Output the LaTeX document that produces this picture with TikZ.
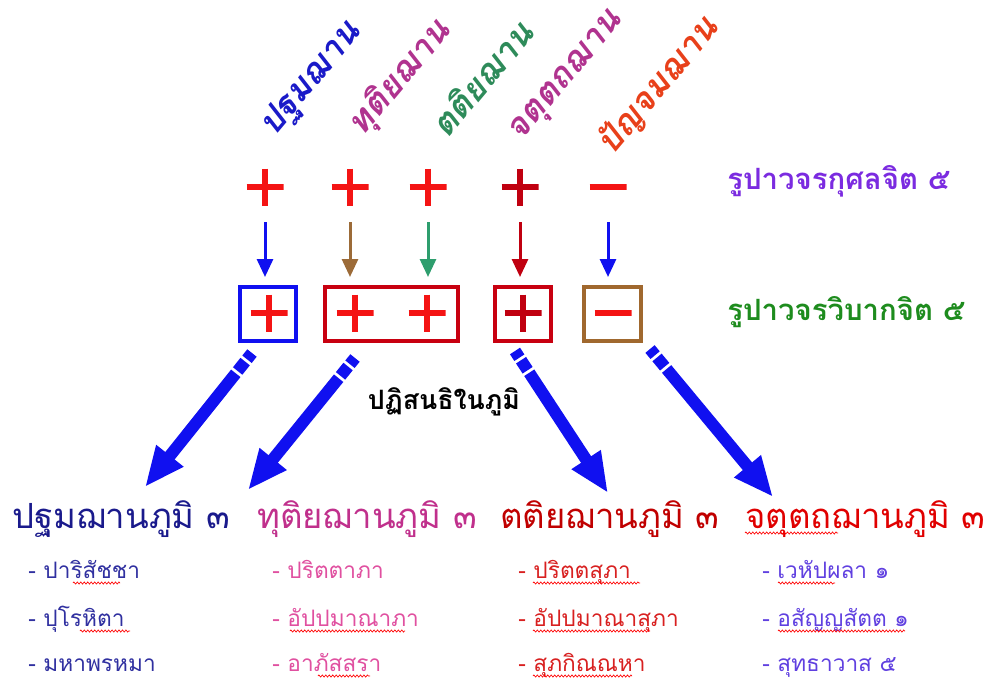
\documentclass[tikz,border=0pt]{standalone}
\usepackage{fontspec}
\newfontfamily\thaifont[Script=Thai]{Loma}
\usetikzlibrary{arrows.meta,decorations.pathmorphing}
\definecolor{headblue}{HTML}{1A1AC8}
\definecolor{headmag}{HTML}{B0338F}
\definecolor{headgreen}{HTML}{2E8B5A}
\definecolor{headorange}{HTML}{E8401A}
\definecolor{kusalaviolet}{HTML}{7B2BE0}
\definecolor{vipakagreen}{HTML}{1E8C1E}
\definecolor{plusred}{HTML}{F41414}
\definecolor{plusdark}{HTML}{C00010}
\definecolor{arrowblue}{HTML}{1010F0}
\definecolor{arrowbrown}{HTML}{9C6B38}
\definecolor{arrowgreen}{HTML}{2E9E6E}
\definecolor{boxred}{HTML}{C80010}
\definecolor{boxbrown}{HTML}{A0682E}
\definecolor{bhumione}{HTML}{1A1A8C}
\definecolor{bhumitwo}{HTML}{C0308C}
\definecolor{bhumithree}{HTML}{C00000}
\definecolor{bhumifour}{HTML}{E00000}
\definecolor{itemone}{HTML}{3030A0}
\definecolor{itemtwo}{HTML}{E050A0}
\definecolor{itemthree}{HTML}{D82020}
\definecolor{itemfour}{HTML}{6040E0}
\tikzset{
  plusmark/.style={minimum size=27.75pt, inner sep=0pt,
    path picture={\draw[line width=4.5pt,#1]
      (path picture bounding box.north) -- (path picture bounding box.south)
      (path picture bounding box.west) -- (path picture bounding box.east);}},
  minusmark/.style={minimum size=27.75pt, inner sep=0pt,
    path picture={\draw[line width=4.5pt,#1]
      (path picture bounding box.west) -- (path picture bounding box.east);}},
  boxmark/.style={draw=#1, line width=3pt, inner sep=0pt, minimum height=40.5pt},
  thinarrow/.style={line width=2.25pt, -{Triangle[length=13.5pt,width=12pt]},
    shorten <=12.4pt, shorten >=6pt},
  bigarrow/.style={arrowblue, line width=9pt,
    dash pattern=on 6pt off 2.25pt on 9pt off 2.25pt on 2000pt,
    -{Triangle[length=30pt,width=24pt]}},
  squiggle/.style={red, line width=0.5pt, decorate,
    decoration={zigzag, segment length=2.6pt, amplitude=0.8pt}}
}
\begin{document}
\begin{tikzpicture}[x=0.75pt,y=-0.75pt,
  heading/.style={font=\thaifont\bfseries\itshape\fontsize{26}{30}\selectfont,
    rotate=50, inner sep=0pt},
  citta/.style={font=\thaifont\bfseries\fontsize{22}{26}\selectfont,
    anchor=base west, inner sep=0pt},
  bhumi/.style={font=\thaifont\fontsize{26}{30}\selectfont,
    anchor=base west, inner sep=0pt},
  bhumiitem/.style={font=\thaifont\fontsize{17}{20}\selectfont,
    anchor=base west, inner sep=0pt}]
\useasboundingbox (0,0) rectangle (992,679);

% Marking the five jhana headings
\node[heading, text=headblue]   (j1) at (312,80) {ปฐมฌาน};
\node[heading, text=headmag]    (j2) at (400,78) {ทุติยฌาน};
\node[heading, text=headgreen]  (j3) at (481,78) {ตติยฌาน};
\node[heading, text=headmag]    (j4) at (568,78) {จตุตถฌาน};
\node[heading, text=headorange] (j5) at (658,86) {ปัญจมฌาน};

% Marking the kusala row
\node[plusmark=plusred]   (t1) at (265,187) {};
\node[plusmark=plusred]   (t2) at (350,187) {};
\node[plusmark=plusred]   (t3) at (428,187) {};
\node[plusmark=plusdark]  (t4) at (520,187) {};
\node[minusmark=plusred]  (t5) at (608,187) {};
\node[citta, text=kusalaviolet] (kusala) at (727,189) {รูปาวจรกุศลจิต ๕};

% Marking the vipaka boxes
\node[boxmark=arrowblue, minimum width=42pt]   (b1) at (268,314) {};
\node[boxmark=boxred, minimum width=99.75pt]   (b2) at (391.5,314) {};
\node[boxmark=boxred, minimum width=42pt]      (b3) at (523,314) {};
\node[boxmark=boxbrown, minimum width=42.75pt] (b4) at (612.5,314) {};
\node[plusmark=plusred]  (v1) at (269,313) {};
\node[plusmark=plusred]  (v2) at (355,313) {};
\node[plusmark=plusred]  (v3) at (427,313) {};
\node[plusmark=plusdark] (v4) at (523,313) {};
\node[minusmark=plusred] (v5) at (613,313) {};
\node[citta, text=vipakagreen] (vipaka) at (727,320) {รูปาวจรวิบากจิต ๕};

% Drawing the small arrows
\draw[thinarrow, arrowblue]  (t1) -- (t1 |- b1.north);
\draw[thinarrow, arrowbrown] (t2) -- (t2 |- b2.north);
\draw[thinarrow, arrowgreen] (t3) -- (t3 |- b2.north);
\draw[thinarrow, plusdark]   (t4) -- (t4 |- b3.north);
\draw[thinarrow, arrowblue]  (t5) -- (t5 |- b4.north);

% Marking the middle label
\node[font=\thaifont\bfseries\fontsize{20}{24}\selectfont, anchor=base, inner sep=0pt]
  (patisandhi) at (444,409) {ปฏิสนธิในภูมิ};

% Drawing the big arrows
\coordinate (s1) at (252,353); \coordinate (e1) at (145,487);
\coordinate (s2) at (355,358); \coordinate (e2) at (248,490);
\coordinate (s3) at (515,351); \coordinate (e3) at (608,493);
\coordinate (s4) at (650,349); \coordinate (e4) at (773,497);
\draw[bigarrow] (s1) -- (e1);
\draw[bigarrow] (s2) -- (e2);
\draw[bigarrow] (s3) -- (e3);
\draw[bigarrow] (s4) -- (e4);

% Marking the four bhumi
\node[bhumi, text=bhumione]   (h1) at (12,528)  {ปฐมฌานภูมิ ๓};
\node[bhumi, text=bhumitwo]   (h2) at (257,528) {ทุติยฌานภูมิ ๓};
\node[bhumi, text=bhumithree] (h3) at (500,528) {ตติยฌานภูมิ ๓};
\node[bhumi, text=bhumifour]  (h4) at (745,528) {จตุตถฌานภูมิ ๓};

% Marking the planes of each bhumi
\node[bhumiitem, text=itemone] (i11) at (28,578) {- ปาริสัชชา};
\node[bhumiitem, text=itemone] (i12) at (28,626) {- ปุโรหิตา};
\node[bhumiitem, text=itemone] (i13) at (28,671) {- มหาพรหมา};
\node[bhumiitem, text=itemtwo] (i21) at (272,578) {- ปริตตาภา};
\node[bhumiitem, text=itemtwo] (i22) at (272,626) {- อัปปมาณาภา};
\node[bhumiitem, text=itemtwo] (i23) at (272,671) {- อาภัสสรา};
\node[bhumiitem, text=itemthree] (i31) at (518,578) {- ปริตตสุภา};
\node[bhumiitem, text=itemthree] (i32) at (518,626) {- อัปปมาณาสุภา};
\node[bhumiitem, text=itemthree] (i33) at (518,671) {- สุภกิณณหา};
\node[bhumiitem, text=itemfour] (i41) at (762,578) {- เวหัปผลา ๑};
\node[bhumiitem, text=itemfour] (i42) at (762,626) {- อสัญญสัตต ๑};
\node[bhumiitem, text=itemfour] (i43) at (762,671) {- สุทธาวาส ๕};

% Drawing the spelling marks
\draw[squiggle] (73,583) -- (120,583);
\draw[squiggle] (80,631) -- (130,631);
\draw[squiggle] (290,631) -- (405,631);
\draw[squiggle] (318,676) -- (370,676);
\draw[squiggle] (533,583) -- (640,583);
\draw[squiggle] (533,631) -- (650,631);
\draw[squiggle] (533,676) -- (632,676);
\draw[squiggle] (745,533) -- (838,533);
\draw[squiggle] (778,583) -- (835,583);
\draw[squiggle] (778,631) -- (905,631);
\end{tikzpicture}
\end{document}
